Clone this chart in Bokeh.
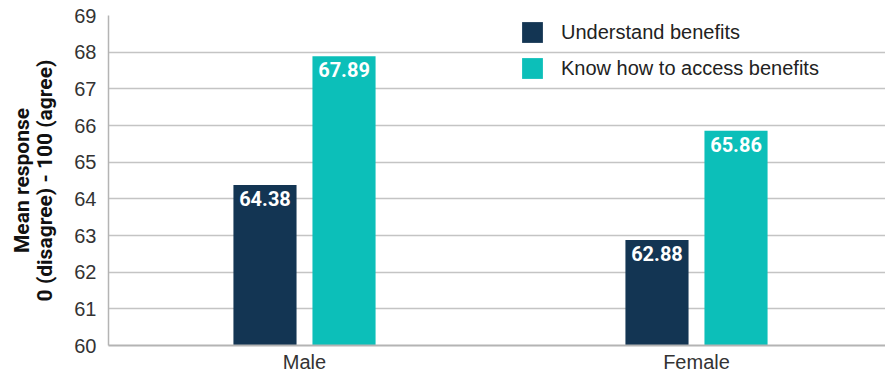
from bokeh.plotting import figure
from bokeh.models import ColumnDataSource, FixedTicker, LabelSet, Legend, LegendItem
from bokeh.core.properties import value
from bokeh.embed import file_html
from bokeh.resources import INLINE

categories = ["Male", "Female"]
series_names = ["Understand benefits", "Know how to access benefits"]
understand = [64.38, 62.88]
access = [67.89, 65.86]
y_ticks = [60, 61, 62, 63, 64, 65, 66, 67, 68, 69]

NAVY = "#133553"
TEAL = "#0cbfb9"

pos = [i + 0.5 for i in range(len(categories))]
off = 0.1008
bw = 0.161

p = figure(width=885, height=375, output_backend="svg", toolbar_location=None,
           x_range=(0, 777 / 392), y_range=(60, 69),
           min_border_left=108, min_border_right=0, min_border_top=15, min_border_bottom=28)

src1 = ColumnDataSource(dict(x=[v - off for v in pos], top=understand,
                             lab=[f"{v:.2f}" for v in understand]))
src2 = ColumnDataSource(dict(x=[v + off for v in pos], top=access,
                             lab=[f"{v:.2f}" for v in access]))

r1 = p.vbar(x="x", top="top", bottom=60, width=bw, source=src1, fill_color=NAVY, line_color=None)
r2 = p.vbar(x="x", top="top", bottom=60, width=bw, source=src2, fill_color=TEAL, line_color=None)

for s in (src1, src2):
    p.add_layout(LabelSet(x="x", y="top", text="lab", source=s, text_align="center",
                          text_baseline="top", y_offset=-6, text_color="white",
                          text_font=value("Roboto"), text_font_style="bold",
                          text_font_size="20px"))

p.outline_line_color = None
p.xgrid.grid_line_color = None
p.ygrid.grid_line_color = "#c4c4c4"
p.ygrid.grid_line_width = 1.5

p.yaxis.ticker = FixedTicker(ticks=y_ticks)
p.yaxis.major_tick_line_color = None
p.yaxis.minor_tick_line_color = None
p.yaxis.major_tick_out = 0
p.yaxis.major_tick_in = 0
p.yaxis.minor_tick_out = 0
p.yaxis.axis_line_color = "#b4b4b4"
p.yaxis.axis_line_width = 1.5
p.yaxis.major_label_text_font = "Liberation Sans"
p.yaxis.major_label_text_font_size = "20px"
p.yaxis.major_label_text_color = "#333333"
p.yaxis.major_label_standoff = 12
p.yaxis.axis_label = "Mean response\n0 (disagree) - 100 (agree)"
p.yaxis.axis_label_text_font = "'Liberation Sans Narrow', 'Roboto'"
p.yaxis.axis_label_text_font_style = "bold"
p.yaxis.axis_label_text_font_size = "21px"
p.yaxis.axis_label_text_line_height = 0.95
p.yaxis.axis_label_text_color = "#111111"
p.yaxis.axis_label_standoff = 14

p.xaxis.ticker = FixedTicker(ticks=pos)
p.xaxis.major_label_overrides = {pos[i]: c for i, c in enumerate(categories)}
p.xaxis.major_tick_line_color = None
p.xaxis.minor_tick_line_color = None
p.xaxis.major_tick_out = 0
p.xaxis.major_tick_in = 0
p.xaxis.minor_tick_out = 0
p.xaxis.axis_line_color = "#b4b4b4"
p.xaxis.axis_line_width = 2
p.xaxis.major_label_text_font = "'Liberation Sans Narrow', 'Liberation Sans'"
p.xaxis.major_label_text_font_size = "20px"
p.xaxis.major_label_text_color = "#333333"
p.xaxis.major_label_standoff = 5

legend = Legend(items=[LegendItem(label=series_names[0], renderers=[r1]),
                       LegendItem(label=series_names[1], renderers=[r2])],
                location=(411, 264), orientation="vertical",
                background_fill_alpha=0, border_line_color=None,
                padding=0, margin=0, spacing=10,
                glyph_width=26, glyph_height=26, label_height=26, label_standoff=16,
                label_text_font="Liberation Sans", label_text_font_size="20px",
                label_text_color="#222222")
p.add_layout(legend)

open("out.html", "w").write(file_html(p, INLINE))
